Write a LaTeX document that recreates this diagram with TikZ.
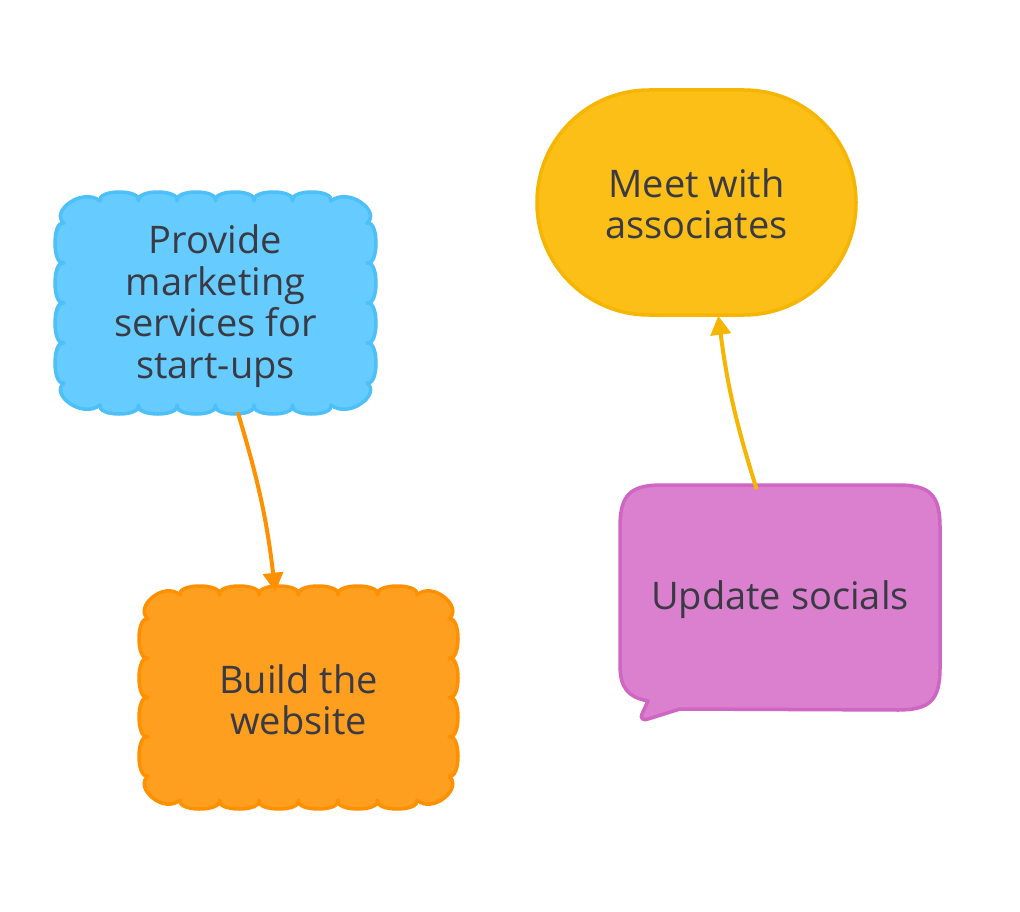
\documentclass[tikz,border=0pt]{standalone}
\usepackage{fontspec}
\setmainfont{Open Sans}
\usetikzlibrary{arrows.meta}
\definecolor{textcol}{RGB}{58,58,68}
\definecolor{bluefill}{RGB}{102,204,255}
\definecolor{bluedraw}{RGB}{77,192,250}
\definecolor{orangefill}{RGB}{255,159,31}
\definecolor{orangedraw}{RGB}{255,145,0}
\definecolor{yellowfill}{RGB}{252,191,23}
\definecolor{yellowdraw}{RGB}{245,181,0}
\definecolor{pinkfill}{RGB}{218,128,206}
\definecolor{pinkdraw}{RGB}{207,102,196}
\def\bk{12}
\def\bo{3}
% #1 style, #2 x1, #3 y1, #4 x2, #5 y2, #6 nx, #7 ny, #8 cx, #9 cy
\newcommand\scallopshape[9]{%
  \pgfmathsetmacro\sdx{(#4-#2-2*#8)/#6}%
  \pgfmathsetmacro\sdy{(#5-#3-2*#9)/#7}%
  \draw[#1] (#2,#3+#9)
    .. controls +(-1.2*\bk,-0.5*#9) and +(-0.5*#8,-1.2*\bk) .. (#2+#8,#3)
    \foreach \i in {1,...,#6}{ .. controls +(-\bo,-\bk) and +(\bo,-\bk) .. ++(\sdx,0) }
    .. controls +(0.5*#8,-1.2*\bk) and +(1.2*\bk,-0.5*#9) .. (#4,#3+#9)
    \foreach \i in {1,...,#7}{ .. controls +(\bk,-\bo) and +(\bk,\bo) .. ++(0,\sdy) }
    .. controls +(1.2*\bk,0.5*#9) and +(0.5*#8,1.2*\bk) .. (#4-#8,#5)
    \foreach \i in {1,...,#6}{ .. controls +(\bo,\bk) and +(-\bo,\bk) .. ++(-\sdx,0) }
    .. controls +(-0.5*#8,1.2*\bk) and +(-1.2*\bk,0.5*#9) .. (#2,#5-#9)
    \foreach \i in {1,...,#7}{ .. controls +(-\bk,\bo) and +(-\bk,-\bo) .. ++(0,-\sdy) }
    -- cycle;
}
\begin{document}
\begin{tikzpicture}[x=1pt,y=-1pt,
  txt/.style={align=center, text=textcol, font=\fontsize{38}{41.5}\selectfont, inner sep=0pt},
  shapeline/.style={line width=3.5pt, line join=round},
  arr/.style={line width=4pt, -{Triangle[length=19pt,width=20pt]}}]
\path[fill=white, use as bounding box] (0,0) rectangle (1020,912);
% shapes
\scallopshape{shapeline, fill=bluefill, draw=bluedraw}{64}{201}{367}{405}{6}{4}{36}{22}
\scallopshape{shapeline, fill=orangefill, draw=orangedraw}{148}{595}{449}{800}{6}{4}{32}{24}
\draw[shapeline, fill=yellowfill, draw=yellowdraw, rounded corners=112pt] (537,90) rectangle (856,315);
\draw[shapeline, fill=pinkfill, draw=pinkdraw]
  (662,485) -- (898,485)
  .. controls (930,485) and (940,495) .. (940,527) -- (940,668)
  .. controls (940,700) and (930,710) .. (898,710) -- (680,709)
  -- (648,719) .. controls (643,721) and (640,718) .. (642,714)
  -- (648,701) .. controls (628,697) and (620,688) .. (620,665)
  -- (620,527) .. controls (620,495) and (630,485) .. (662,485) -- cycle;
% text nodes
\node[txt, minimum width=319pt, minimum height=220pt] (blue) at (215.5,306) {Provide\\marketing\\services for\\start-ups};
\node[txt, minimum width=317pt, minimum height=221pt] (orange) at (298.5,699.5) {Build the\\website};
\node[txt, minimum width=319pt, minimum height=225pt] (yellow) at (696.5,204) {Meet with\\associates};
\node[txt, minimum width=320pt, minimum height=225pt] (pink) at (780,600) {Update socials};
% connectors
\draw[arr, orangedraw, shorten <=-4pt, shorten >=-3pt] (blue.-78.4) to[bend left=5] (orange.102.5);
\draw[arr, yellowdraw, shorten <=-2pt, shorten >=-1pt] (pink.102.5) to[bend left=5] (yellow.-79.7);
\end{tikzpicture}
\end{document}
